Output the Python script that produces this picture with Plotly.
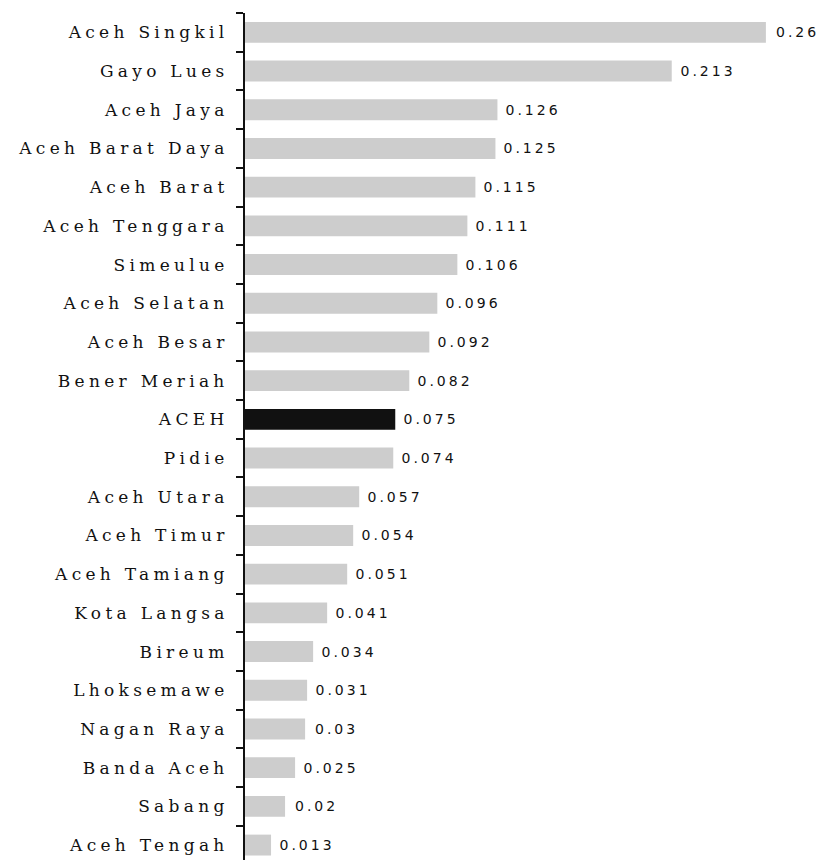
import plotly.graph_objects as go

# Districts of Aceh, ordered top to bottom
regions = [
    "Aceh Singkil", "Gayo Lues", "Aceh Jaya", "Aceh Barat Daya", "Aceh Barat",
    "Aceh Tenggara", "Simeulue", "Aceh Selatan", "Aceh Besar", "Bener Meriah",
    "ACEH", "Pidie", "Aceh Utara", "Aceh Timur", "Aceh Tamiang", "Kota Langsa",
    "Bireum", "Lhoksemawe", "Nagan Raya", "Banda Aceh", "Sabang", "Aceh Tengah",
]
values = [
    0.26, 0.213, 0.126, 0.125, 0.115,
    0.111, 0.106, 0.096, 0.092, 0.082,
    0.075, 0.074, 0.057, 0.054, 0.051, 0.041,
    0.034, 0.031, 0.03, 0.025, 0.02, 0.013,
]
value_labels = [
    "0.26", "0.213", "0.126", "0.125", "0.115",
    "0.111", "0.106", "0.096", "0.092", "0.082",
    "0.075", "0.074", "0.057", "0.054", "0.051", "0.041",
    "0.034", "0.031", "0.03", "0.025", "0.02", "0.013",
]
province = "ACEH"

bar_colors = ["#111111" if r == province else "#cdcdcd" for r in regions]

fig = go.Figure(
    go.Bar(
        x=values,
        y=regions,
        orientation="h",
        marker=dict(color=bar_colors, line=dict(width=0)),
        hoverinfo="skip",
    )
)

for r, v, lab in zip(regions, values, value_labels):
    fig.add_annotation(
        x=v, y=r, text=lab, showarrow=False,
        xanchor="left", yanchor="middle", xshift=14, yshift=0,
        font=dict(family="DejaVu Sans", size=14, color="#111111"),
    )

fig.update_layout(
    width=823,
    height=860,
    margin=dict(l=245, r=0, t=13, b=0),
    paper_bgcolor="white",
    plot_bgcolor="white",
    bargap=0.46,
    showlegend=False,
    xaxis=dict(
        range=[0, 0.2885], visible=False, showgrid=False, zeroline=False,
    ),
    yaxis=dict(
        type="category",
        categoryorder="array",
        categoryarray=regions,
        range=[21.386, -0.5],
        showline=True, linewidth=2, linecolor="#111111",
        ticks="outside", tickson="boundaries", ticklen=7, tickwidth=2,
        tickcolor="#111111",
        showgrid=False, zeroline=False,
        ticklabelstandoff=11,
        tickfont=dict(family="DejaVu Serif", size=17, color="#111111"),
    ),
)

# Widen the letter spacing of the labels
spacing_js = """
var gd = document.getElementById('{plot_id}');
function spaceText() {
  gd.querySelectorAll('.ytick text').forEach(function (t) { t.style.letterSpacing = '4.3px'; });
  gd.querySelectorAll('.annotation-text').forEach(function (t) { t.style.letterSpacing = '3px'; });
}
gd.on('plotly_afterplot', spaceText);
spaceText();
"""

fig.write_html("out.html", post_script=spacing_js)
